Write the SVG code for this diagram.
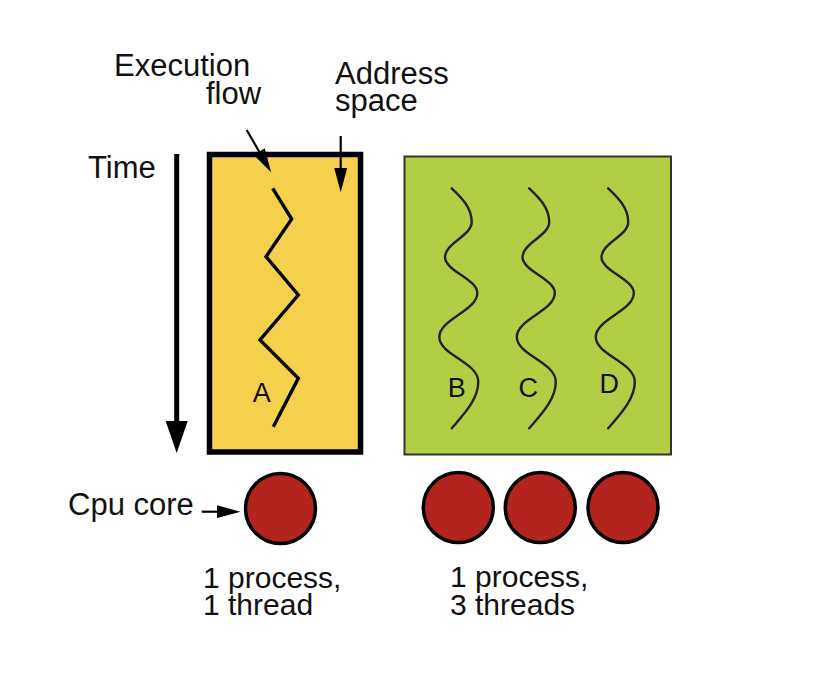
<svg xmlns="http://www.w3.org/2000/svg" width="818" height="688" viewBox="0 0 818 688">
<style>
.t{font-family:"Liberation Sans",Arial,sans-serif;font-size:30px;fill:#111}
.tb{font-size:31px}
.l{font-family:"Liberation Sans",Arial,sans-serif;font-size:27px;fill:#111}
.core{fill:#B3241E;stroke:#000;stroke-width:3.5}
.wave{fill:none;stroke:#222;stroke-width:2.4;stroke-linecap:round}
.conn{stroke:#000;fill:none}
</style>
<defs>
<marker id="headL" viewBox="0 0 10 10" refX="0.3" refY="5" markerUnits="userSpaceOnUse" markerWidth="32" markerHeight="22" orient="auto" preserveAspectRatio="none">
<path d="M0,0 L10,5 L0,10 z" fill="#000"/>
</marker>
<marker id="headS" viewBox="0 0 10 10" refX="0.5" refY="5" markerUnits="userSpaceOnUse" markerWidth="24" markerHeight="13" orient="auto" preserveAspectRatio="none">
<path d="M0,0 L10,5 L0,10 z" fill="#000"/>
</marker>
<path id="w" class="wave" d="M451.7,188.3 C462,198 471.7,208 471.7,222 C471.7,236 445,243 445,257 C445,271 477.3,279 477.3,293 C477.3,311 439.3,319 439.3,337 C439.3,355 478.3,362 478.3,382 C478.3,400 462,416 451.7,428.3"/>
</defs>
<rect width="818" height="688" fill="#fff"/>
<g id="process1">
<rect x="209.5" y="154.5" width="151" height="297.5" fill="#F5D04C" stroke="#000" stroke-width="5.5"/>
<polyline points="272.7,188.3 291.7,219 266,256.7 298.3,295 260,340 298.3,378.3 273.3,426.7" fill="none" stroke="#000" stroke-width="3.4" stroke-linejoin="miter"/>
<text class="l" x="261.7" y="401.7" text-anchor="middle">A</text>
</g>
<g id="process2">
<rect x="404.5" y="156.5" width="266.5" height="298" fill="#B1CE44" stroke="#333" stroke-width="2"/>
<use href="#w"/>
<use href="#w" transform="translate(77.5,0)"/>
<use href="#w" transform="translate(156.5,0)"/>
<text class="l" x="456.7" y="396.7" text-anchor="middle">B</text>
<text class="l" x="528.3" y="396.7" text-anchor="middle">C</text>
<text class="l" x="609.3" y="393.3" text-anchor="middle">D</text>
</g>
<g id="cores">
<circle id="core1" class="core" cx="280.5" cy="508.5" r="35"/>
<circle id="core2" class="core" cx="458.3" cy="507.5" r="35"/>
<circle id="core3" class="core" cx="540.3" cy="507.5" r="35"/>
<circle id="core4" class="core" cx="623" cy="507.5" r="35"/>
</g>
<g id="labels">
<text class="t tb" x="114" y="76">Execution</text>
<text class="t tb" x="206" y="103.5">flow</text>
<text class="t tb" x="335" y="83.5">Address</text>
<text class="t tb" x="335" y="111">space</text>
<text class="t tb" x="88" y="178.3">Time</text>
<text class="t tb" x="68" y="515">Cpu core</text>
<text class="t" x="203" y="587.5">1 process,</text>
<text class="t" x="203" y="614.5">1 thread</text>
<text class="t" x="450" y="587">1 process,</text>
<text class="t" x="450" y="615">3 threads</text>
</g>
<g id="connectors">
<line class="conn" x1="176.7" y1="154" x2="176.7" y2="422" stroke-width="5" marker-end="url(#headL)"/>
<line class="conn" x1="246.7" y1="130" x2="259.7" y2="152.5" stroke-width="2.2" marker-end="url(#headS)"/>
<line class="conn" x1="340.7" y1="136" x2="340.7" y2="169.3" stroke-width="2.2" marker-end="url(#headS)"/>
<line class="conn" x1="201.7" y1="511.7" x2="217.7" y2="511.7" stroke-width="2.2" marker-end="url(#headS)"/>
</g>
</svg>
